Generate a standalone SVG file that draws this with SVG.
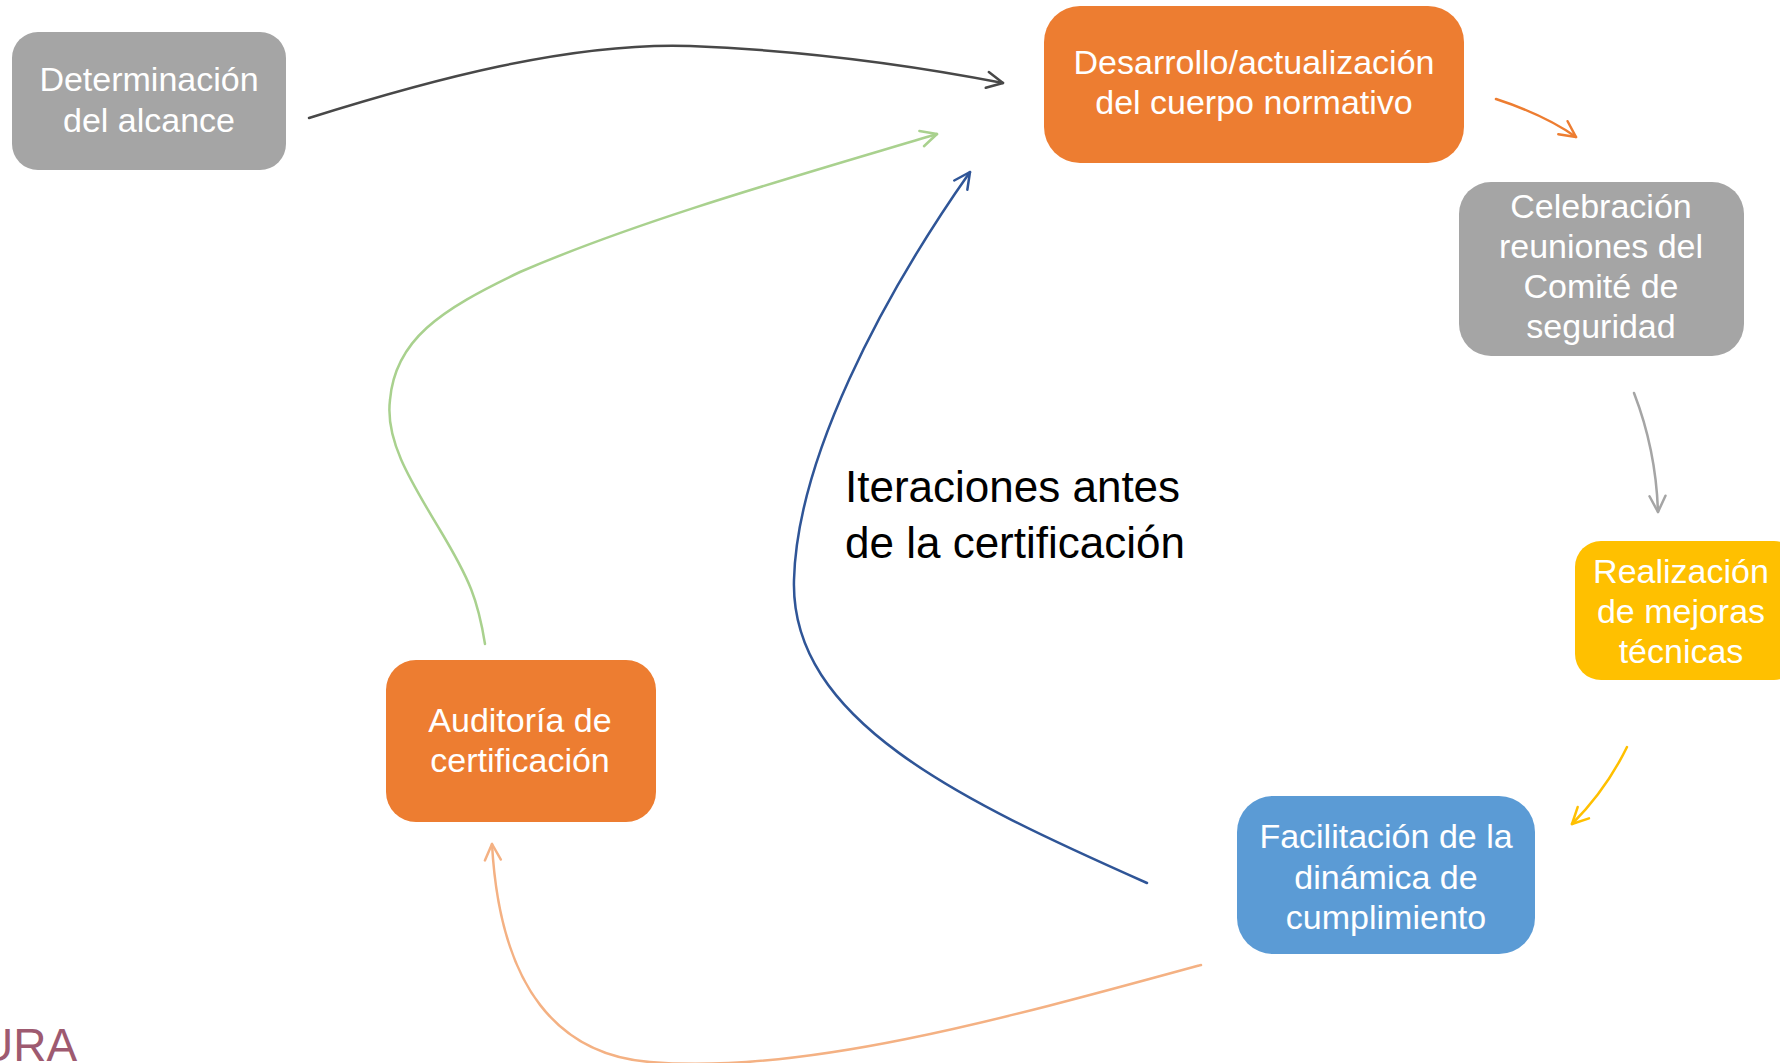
<svg xmlns="http://www.w3.org/2000/svg" width="1780" height="1063" viewBox="0 0 1780 1063">
<style>
.box-text{font-family:"Liberation Sans",Arial,sans-serif;font-size:34px;fill:#FFFFFF;text-anchor:middle}
.label{font-family:"Liberation Sans",Arial,sans-serif;font-size:44px;fill:#000000}
.conn{fill:none;stroke-width:2.5;stroke-linecap:round}
</style>
<defs>
<marker id="ah-dark" viewBox="-20 -12 24 24" refX="0" refY="0" markerWidth="24" markerHeight="24" markerUnits="userSpaceOnUse" orient="auto"><path d="M-16,-8 L0,0 L-16,8" fill="none" stroke="#484848" stroke-width="2.5" stroke-linecap="round" stroke-linejoin="round"/></marker>
<marker id="ah-orange" viewBox="-20 -12 24 24" refX="0" refY="0" markerWidth="24" markerHeight="24" markerUnits="userSpaceOnUse" orient="auto"><path d="M-16,-8 L0,0 L-16,8" fill="none" stroke="#ED7D31" stroke-width="2.5" stroke-linecap="round" stroke-linejoin="round"/></marker>
<marker id="ah-gray" viewBox="-20 -12 24 24" refX="0" refY="0" markerWidth="24" markerHeight="24" markerUnits="userSpaceOnUse" orient="auto"><path d="M-16,-8 L0,0 L-16,8" fill="none" stroke="#A5A5A5" stroke-width="2.5" stroke-linecap="round" stroke-linejoin="round"/></marker>
<marker id="ah-yellow" viewBox="-20 -12 24 24" refX="0" refY="0" markerWidth="24" markerHeight="24" markerUnits="userSpaceOnUse" orient="auto"><path d="M-16,-8 L0,0 L-16,8" fill="none" stroke="#FFC000" stroke-width="2.5" stroke-linecap="round" stroke-linejoin="round"/></marker>
<marker id="ah-blue" viewBox="-20 -12 24 24" refX="0" refY="0" markerWidth="24" markerHeight="24" markerUnits="userSpaceOnUse" orient="auto"><path d="M-16,-8 L0,0 L-16,8" fill="none" stroke="#2F5597" stroke-width="2.5" stroke-linecap="round" stroke-linejoin="round"/></marker>
<marker id="ah-green" viewBox="-20 -12 24 24" refX="0" refY="0" markerWidth="24" markerHeight="24" markerUnits="userSpaceOnUse" orient="auto"><path d="M-16,-8 L0,0 L-16,8" fill="none" stroke="#A9D18E" stroke-width="2.5" stroke-linecap="round" stroke-linejoin="round"/></marker>
<marker id="ah-peach" viewBox="-20 -12 24 24" refX="0" refY="0" markerWidth="24" markerHeight="24" markerUnits="userSpaceOnUse" orient="auto"><path d="M-16,-8 L0,0 L-16,8" fill="none" stroke="#F4B183" stroke-width="2.5" stroke-linecap="round" stroke-linejoin="round"/></marker>
</defs>
<rect width="1780" height="1063" fill="#FFFFFF"/>

<g id="connectors">
<path class="conn" stroke="#484848" marker-end="url(#ah-dark)" d="M309,118 C430,80 570,42 690,46 C790,50 900,63 1003,83"/>
<path class="conn" stroke="#ED7D31" marker-end="url(#ah-orange)" d="M1496,99 Q1545,115 1576,137"/>
<path class="conn" stroke="#A5A5A5" marker-end="url(#ah-gray)" d="M1634,393 Q1656,450 1658,512"/>
<path class="conn" stroke="#FFC000" marker-end="url(#ah-yellow)" d="M1627,747 Q1606,790 1572,824"/>
<path class="conn" stroke="#2F5597" marker-end="url(#ah-blue)" d="M1147,883 C960,800 790,720 794,580 C797,460 880,300 970,172"/>
<path class="conn" stroke="#A9D18E" marker-end="url(#ah-green)" d="M485,644 C478,600 470,580 440,530 C410,480 385,440 390,400 C395,340 440,310 520,272 C640,220 800,175 937,134"/>
<path class="conn" stroke="#F4B183" marker-end="url(#ah-peach)" d="M1201,965 C1000,1020 800,1075 650,1062 C560,1055 500,990 492,844"/>
</g>

<g id="node-determinacion">
<rect x="12" y="32" width="274" height="138" rx="26" fill="#A5A5A5"/>
<text class="box-text" x="149" y="91">Determinación</text>
<text class="box-text" x="149" y="132">del alcance</text>
</g>

<g id="node-desarrollo">
<rect x="1044" y="6" width="420" height="157" rx="36" fill="#ED7D31"/>
<text class="box-text" x="1254" y="74">Desarrollo/actualización</text>
<text class="box-text" x="1254" y="114">del cuerpo normativo</text>
</g>

<g id="node-celebracion">
<rect x="1459" y="182" width="285" height="174" rx="32" fill="#A5A5A5"/>
<text class="box-text" x="1601" y="218">Celebración</text>
<text class="box-text" x="1601" y="258">reuniones del</text>
<text class="box-text" x="1601" y="298">Comité de</text>
<text class="box-text" x="1601" y="338">seguridad</text>
</g>

<g id="node-realizacion">
<rect x="1575" y="541" width="225" height="139" rx="26" fill="#FFC000"/>
<text class="box-text" x="1681" y="583">Realización</text>
<text class="box-text" x="1681" y="623">de mejoras</text>
<text class="box-text" x="1681" y="663">técnicas</text>
</g>

<g id="node-facilitacion">
<rect x="1237" y="796" width="298" height="158" rx="36" fill="#5B9BD5"/>
<text class="box-text" x="1386" y="848">Facilitación de la</text>
<text class="box-text" x="1386" y="889">dinámica de</text>
<text class="box-text" x="1386" y="929">cumplimiento</text>
</g>

<g id="node-auditoria">
<rect x="386" y="660" width="270" height="162" rx="30" fill="#ED7D31"/>
<text class="box-text" x="520" y="732">Auditoría de</text>
<text class="box-text" x="520" y="772">certificación</text>
</g>

<g id="label-iteraciones">
<text class="label" x="845" y="502">Iteraciones antes</text>
<text class="label" x="845" y="558">de la certificación</text>
</g>

<text x="-20" y="1061" font-family="Liberation Sans, Arial, sans-serif" font-size="46" fill="#9E5A70">URA</text>
</svg>
